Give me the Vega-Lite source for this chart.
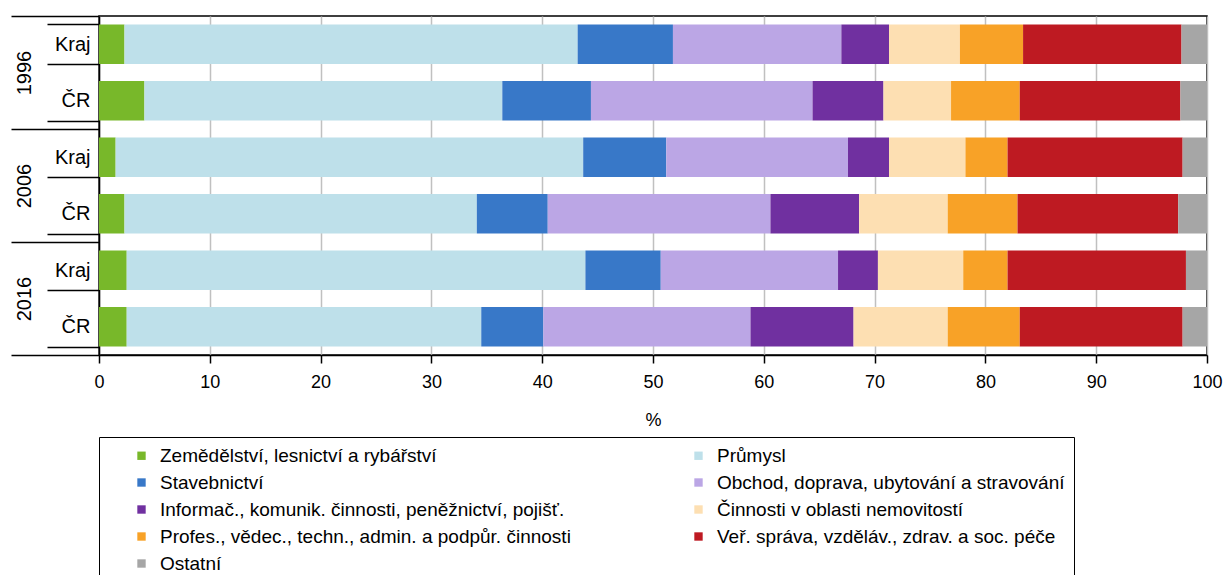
{
  "$schema": "https://vega.github.io/schema/vega-lite/v6.json",
  "width": 1108,
  "height": 339,
  "padding": {"left": 10, "top": 6, "right": 5, "bottom": 0},
  "config": {
    "font": "Liberation Sans",
    "view": {"stroke": "#000", "strokeWidth": 1.5},
    "axis": {"labelColor": "#000", "titleColor": "#000", "labelFont": "Liberation Sans", "titleFont": "Liberation Sans"}
  },
  "data": {
    "values": [
      {"year": "1996", "area": "Kraj", "row": "1996 Kraj", "sector": "Zemědělství, lesnictví a rybářství", "ord": 1, "value": 2.3},
      {"year": "1996", "area": "Kraj", "row": "1996 Kraj", "sector": "Průmysl", "ord": 2, "value": 40.9},
      {"year": "1996", "area": "Kraj", "row": "1996 Kraj", "sector": "Stavebnictví", "ord": 3, "value": 8.6},
      {"year": "1996", "area": "Kraj", "row": "1996 Kraj", "sector": "Obchod, doprava, ubytování a stravování", "ord": 4, "value": 15.2},
      {"year": "1996", "area": "Kraj", "row": "1996 Kraj", "sector": "Informač., komunik. činnosti, peněžnictví, pojišť.", "ord": 5, "value": 4.3},
      {"year": "1996", "area": "Kraj", "row": "1996 Kraj", "sector": "Činnosti v oblasti nemovitostí", "ord": 6, "value": 6.4},
      {"year": "1996", "area": "Kraj", "row": "1996 Kraj", "sector": "Profes., vědec., techn., admin. a podpůr. činnosti", "ord": 7, "value": 5.7},
      {"year": "1996", "area": "Kraj", "row": "1996 Kraj", "sector": "Veř. správa, vzděláv., zdrav. a soc. péče", "ord": 8, "value": 14.3},
      {"year": "1996", "area": "Kraj", "row": "1996 Kraj", "sector": "Ostatní", "ord": 9, "value": 2.3},
      {"year": "1996", "area": "ČR", "row": "1996 ČR", "sector": "Zemědělství, lesnictví a rybářství", "ord": 1, "value": 4.1},
      {"year": "1996", "area": "ČR", "row": "1996 ČR", "sector": "Průmysl", "ord": 2, "value": 32.3},
      {"year": "1996", "area": "ČR", "row": "1996 ČR", "sector": "Stavebnictví", "ord": 3, "value": 8.0},
      {"year": "1996", "area": "ČR", "row": "1996 ČR", "sector": "Obchod, doprava, ubytování a stravování", "ord": 4, "value": 20.0},
      {"year": "1996", "area": "ČR", "row": "1996 ČR", "sector": "Informač., komunik. činnosti, peněžnictví, pojišť.", "ord": 5, "value": 6.4},
      {"year": "1996", "area": "ČR", "row": "1996 ČR", "sector": "Činnosti v oblasti nemovitostí", "ord": 6, "value": 6.1},
      {"year": "1996", "area": "ČR", "row": "1996 ČR", "sector": "Profes., vědec., techn., admin. a podpůr. činnosti", "ord": 7, "value": 6.2},
      {"year": "1996", "area": "ČR", "row": "1996 ČR", "sector": "Veř. správa, vzděláv., zdrav. a soc. péče", "ord": 8, "value": 14.5},
      {"year": "1996", "area": "ČR", "row": "1996 ČR", "sector": "Ostatní", "ord": 9, "value": 2.4},
      {"year": "2006", "area": "Kraj", "row": "2006 Kraj", "sector": "Zemědělství, lesnictví a rybářství", "ord": 1, "value": 1.5},
      {"year": "2006", "area": "Kraj", "row": "2006 Kraj", "sector": "Průmysl", "ord": 2, "value": 42.2},
      {"year": "2006", "area": "Kraj", "row": "2006 Kraj", "sector": "Stavebnictví", "ord": 3, "value": 7.5},
      {"year": "2006", "area": "Kraj", "row": "2006 Kraj", "sector": "Obchod, doprava, ubytování a stravování", "ord": 4, "value": 16.4},
      {"year": "2006", "area": "Kraj", "row": "2006 Kraj", "sector": "Informač., komunik. činnosti, peněžnictví, pojišť.", "ord": 5, "value": 3.7},
      {"year": "2006", "area": "Kraj", "row": "2006 Kraj", "sector": "Činnosti v oblasti nemovitostí", "ord": 6, "value": 6.9},
      {"year": "2006", "area": "Kraj", "row": "2006 Kraj", "sector": "Profes., vědec., techn., admin. a podpůr. činnosti", "ord": 7, "value": 3.8},
      {"year": "2006", "area": "Kraj", "row": "2006 Kraj", "sector": "Veř. správa, vzděláv., zdrav. a soc. péče", "ord": 8, "value": 15.8},
      {"year": "2006", "area": "Kraj", "row": "2006 Kraj", "sector": "Ostatní", "ord": 9, "value": 2.2},
      {"year": "2006", "area": "ČR", "row": "2006 ČR", "sector": "Zemědělství, lesnictví a rybářství", "ord": 1, "value": 2.3},
      {"year": "2006", "area": "ČR", "row": "2006 ČR", "sector": "Průmysl", "ord": 2, "value": 31.8},
      {"year": "2006", "area": "ČR", "row": "2006 ČR", "sector": "Stavebnictví", "ord": 3, "value": 6.4},
      {"year": "2006", "area": "ČR", "row": "2006 ČR", "sector": "Obchod, doprava, ubytování a stravování", "ord": 4, "value": 20.1},
      {"year": "2006", "area": "ČR", "row": "2006 ČR", "sector": "Informač., komunik. činnosti, peněžnictví, pojišť.", "ord": 5, "value": 8.0},
      {"year": "2006", "area": "ČR", "row": "2006 ČR", "sector": "Činnosti v oblasti nemovitostí", "ord": 6, "value": 8.0},
      {"year": "2006", "area": "ČR", "row": "2006 ČR", "sector": "Profes., vědec., techn., admin. a podpůr. činnosti", "ord": 7, "value": 6.3},
      {"year": "2006", "area": "ČR", "row": "2006 ČR", "sector": "Veř. správa, vzděláv., zdrav. a soc. péče", "ord": 8, "value": 14.5},
      {"year": "2006", "area": "ČR", "row": "2006 ČR", "sector": "Ostatní", "ord": 9, "value": 2.6},
      {"year": "2016", "area": "Kraj", "row": "2016 Kraj", "sector": "Zemědělství, lesnictví a rybářství", "ord": 1, "value": 2.5},
      {"year": "2016", "area": "Kraj", "row": "2016 Kraj", "sector": "Průmysl", "ord": 2, "value": 41.4},
      {"year": "2016", "area": "Kraj", "row": "2016 Kraj", "sector": "Stavebnictví", "ord": 3, "value": 6.8},
      {"year": "2016", "area": "Kraj", "row": "2016 Kraj", "sector": "Obchod, doprava, ubytování a stravování", "ord": 4, "value": 16.0},
      {"year": "2016", "area": "Kraj", "row": "2016 Kraj", "sector": "Informač., komunik. činnosti, peněžnictví, pojišť.", "ord": 5, "value": 3.6},
      {"year": "2016", "area": "Kraj", "row": "2016 Kraj", "sector": "Činnosti v oblasti nemovitostí", "ord": 6, "value": 7.7},
      {"year": "2016", "area": "Kraj", "row": "2016 Kraj", "sector": "Profes., vědec., techn., admin. a podpůr. činnosti", "ord": 7, "value": 4.0},
      {"year": "2016", "area": "Kraj", "row": "2016 Kraj", "sector": "Veř. správa, vzděláv., zdrav. a soc. péče", "ord": 8, "value": 16.1},
      {"year": "2016", "area": "Kraj", "row": "2016 Kraj", "sector": "Ostatní", "ord": 9, "value": 1.9},
      {"year": "2016", "area": "ČR", "row": "2016 ČR", "sector": "Zemědělství, lesnictví a rybářství", "ord": 1, "value": 2.5},
      {"year": "2016", "area": "ČR", "row": "2016 ČR", "sector": "Průmysl", "ord": 2, "value": 32.0},
      {"year": "2016", "area": "ČR", "row": "2016 ČR", "sector": "Stavebnictví", "ord": 3, "value": 5.6},
      {"year": "2016", "area": "ČR", "row": "2016 ČR", "sector": "Obchod, doprava, ubytování a stravování", "ord": 4, "value": 18.7},
      {"year": "2016", "area": "ČR", "row": "2016 ČR", "sector": "Informač., komunik. činnosti, peněžnictví, pojišť.", "ord": 5, "value": 9.3},
      {"year": "2016", "area": "ČR", "row": "2016 ČR", "sector": "Činnosti v oblasti nemovitostí", "ord": 6, "value": 8.5},
      {"year": "2016", "area": "ČR", "row": "2016 ČR", "sector": "Profes., vědec., techn., admin. a podpůr. činnosti", "ord": 7, "value": 6.5},
      {"year": "2016", "area": "ČR", "row": "2016 ČR", "sector": "Veř. správa, vzděláv., zdrav. a soc. péče", "ord": 8, "value": 14.7},
      {"year": "2016", "area": "ČR", "row": "2016 ČR", "sector": "Ostatní", "ord": 9, "value": 2.2}
    ]
  },
  "layer": [
    {
      "mark": {"type": "bar"},
      "encoding": {
        "y": {
          "field": "row", "type": "nominal",
          "sort": ["1996 Kraj", "1996 ČR", "2006 Kraj", "2006 ČR", "2016 Kraj", "2016 ČR"],
          "scale": {"paddingInner": 0.3, "paddingOuter": 0.15},
          "axis": {
            "title": null, "orient": "left",
            "labelExpr": "split(datum.value, ' ')[1]",
            "tickBand": "extent", "tickSize": 52, "tickColor": "#000", "tickWidth": 1.5,
            "domainColor": "#000", "domainWidth": 1.5,
            "labelPadding": -43, "labelFontSize": 20, "labelAlign": "right", "grid": false
          }
        },
        "x": {
          "field": "value", "type": "quantitative", "stack": "zero",
          "scale": {"domain": [0, 100], "nice": false},
          "axis": {
            "values": [0, 10, 20, 30, 40, 50, 60, 70, 80, 90, 100],
            "title": "%", "titleFontSize": 18, "titleFontWeight": "normal", "titlePadding": 20,
            "labelFontSize": 18, "labelPadding": 10, "labelFlush": false,
            "grid": true, "gridColor": "#c0c0c0", "gridWidth": 1.5,
            "tickSize": 8, "tickColor": "#000", "tickWidth": 1.5,
            "domainColor": "#000", "domainWidth": 1.5
          }
        },
        "color": {
          "field": "sector", "type": "nominal",
          "scale": {
            "domain": ["Zemědělství, lesnictví a rybářství", "Průmysl", "Stavebnictví", "Obchod, doprava, ubytování a stravování", "Informač., komunik. činnosti, peněžnictví, pojišť.", "Činnosti v oblasti nemovitostí", "Profes., vědec., techn., admin. a podpůr. činnosti", "Veř. správa, vzděláv., zdrav. a soc. péče", "Ostatní"],
            "range": ["#78b82a", "#bee0ea", "#3878c8", "#bba6e5", "#7030a0", "#fddfb2", "#f8a227", "#be1a22", "#a6a6a6"]
          },
          "legend": {
            "title": null, "orient": "bottom", "offset": 8, "columns": 2,
            "symbolType": "square", "symbolSize": 70, "symbolStrokeWidth": 0,
            "labelFontSize": 19, "labelFont": "Liberation Sans", "labelColor": "#000", "labelLimit": 900,
            "rowPadding": 7, "columnPadding": 94, "padding": 9,
            "symbolOffset": 24, "labelOffset": 9,
            "strokeColor": "#000", "gridAlign": "all"
          }
        },
        "order": {"field": "ord", "type": "quantitative"}
      }
    },
    {
      "mark": {"type": "rule", "opacity": 0},
      "encoding": {
        "y": {
          "field": "year", "type": "nominal",
          "scale": {"type": "band", "paddingInner": 0, "paddingOuter": 0, "domain": ["1996", "2006", "2016"]},
          "axis": {
            "title": null, "orient": "left", "domain": false,
            "tickBand": "extent", "tickSize": 88, "tickColor": "#000", "tickWidth": 1.5,
            "labelAngle": 270, "labelAlign": "center", "labelBaseline": "bottom",
            "labelPadding": -23, "labelFontSize": 20, "grid": false
          }
        }
      }
    }
  ],
  "resolve": {"scale": {"y": "independent"}, "axis": {"y": "independent"}}
}
